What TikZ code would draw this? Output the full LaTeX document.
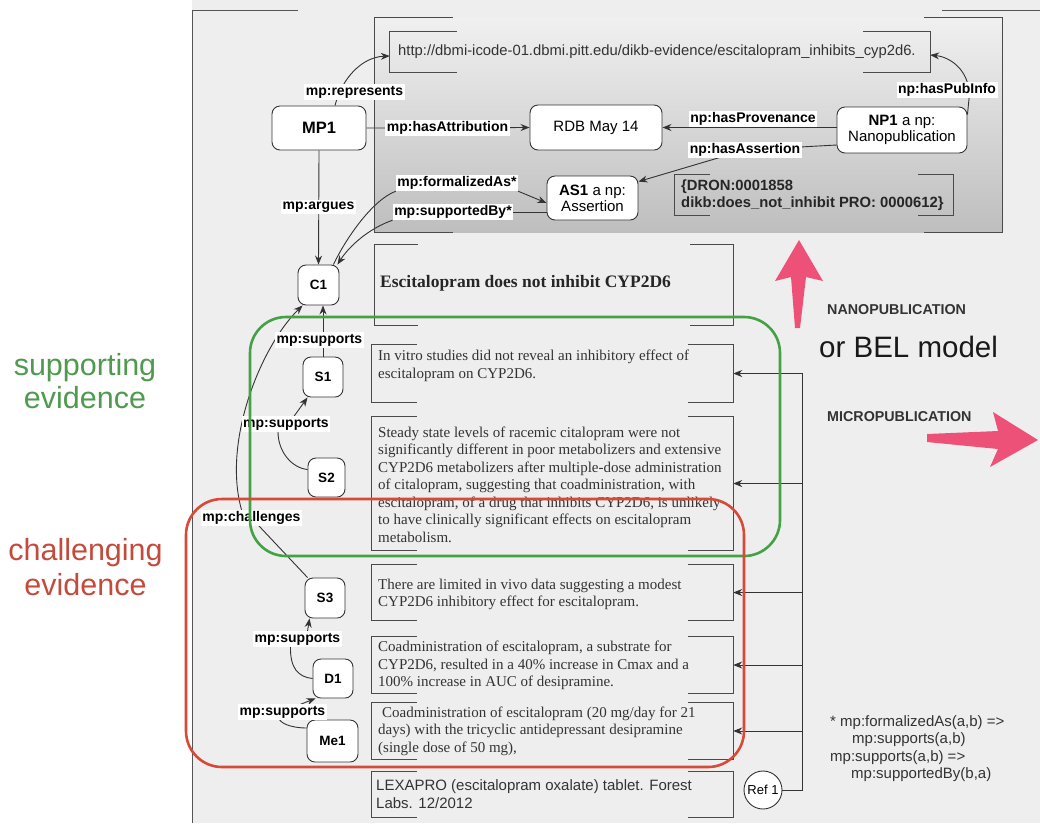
\documentclass[tikz,border=0pt]{standalone}
\usepackage{fontspec}
\setmainfont{Liberation Sans}
\newfontfamily\tnr{Liberation Serif}
\usetikzlibrary{arrows.meta,calc}
\definecolor{linec}{HTML}{333333}
\definecolor{brkc}{HTML}{4A4A4A}
\definecolor{framec}{HTML}{555555}
\definecolor{panelc}{HTML}{EEEEEE}
\definecolor{npTop}{HTML}{F0F0F0}
\definecolor{npBot}{HTML}{BEBEBE}
\definecolor{pinkc}{HTML}{EE5177}
\definecolor{grn}{HTML}{45A145}
\definecolor{rd}{HTML}{D84A38}
\definecolor{grntxt}{HTML}{4F9A4F}
\definecolor{rdtxt}{HTML}{C44B3C}
\pgfdeclarelayer{back}
\pgfdeclarelayer{edges}
\pgfsetlayers{back,edges,main}
\tikzset{
  rnode/.style={draw=linec, fill=white, rounded corners=8pt, line width=0.9pt, inner sep=0pt, align=center},
  snode/.style={rnode, font=\fontsize{13.5}{15}\selectfont\bfseries},
  lbl/.style={fill=white, inner sep=1.5pt, font=\fontsize{14}{15}\selectfont\bfseries, text=black},
  edge/.style={draw=linec, line width=0.9pt},
  arr/.style={edge, -{Stealth[length=9pt,width=7pt]}},
  brk/.style={draw=brkc, line width=1pt},
  boxn/.style={inner sep=0pt, draw=none},
  txt/.style={anchor=west, align=left, inner sep=0pt, font=\tnr\fontsize{15}{17.5}\selectfont, text=black!80},
}
\newcommand\brkbox[2]{%
  \draw[brk] ([xshift=#2]#1.north west) -- (#1.north west) -- (#1.south west) -- ([xshift=#2]#1.south west);
  \draw[brk] ([xshift=-#2]#1.north east) -- (#1.north east) -- (#1.south east) -- ([xshift=-#2]#1.south east);}
\begin{document}
\begin{tikzpicture}[x=1pt,y=-1pt]
\useasboundingbox (0,0) rectangle (1040,823);
\begin{pgfonlayer}{back}
\fill[white] (0,0) rectangle (1040,823);
\fill[panelc] (192,0) rectangle (1040,823);
\shade[top color=npTop, bottom color=npBot] (375,18) rectangle (1002,232);
\end{pgfonlayer}
\draw[framec, line width=1pt] (298,10) -- (192,10) -- (192,823);
\draw[framec, line width=1pt] (942,10) -- (1040,10);

% bracket boxes
\node[boxn, minimum width=627pt, minimum height=214pt] (NPbox) at (688.5,125) {};
\brkbox{NPbox}{78pt}
\node[boxn, minimum width=540pt, minimum height=40pt] (URL) at (660,52) {};
\brkbox{URL}{67pt}
\node[anchor=west, inner sep=0pt, font=\fontsize{14.8}{16}\selectfont, text=black!80] (URLt) at (398,52) {http://dbmi-icode-01.dbmi.pitt.edu/dikb-evidence/escitalopram\_inhibits\_cyp2d6.};
\node[boxn, minimum width=278pt, minimum height=40pt] (DRON) at (814,195) {};
\brkbox{DRON}{35pt}
\node[anchor=west, align=left, inner sep=0pt, font=\fontsize{14.8}{17.3}\selectfont\bfseries, text=black!85] (DRONt) at (681,195) {\{DRON:0001858\\dikb:does\_not\_inhibit PRO: 0000612\}};

\node[boxn, minimum width=358pt, minimum height=80pt] (Stmt) at (554,285) {};
\brkbox{Stmt}{43pt}
\node[anchor=west, inner sep=0pt, font=\tnr\fontsize{17.5}{19}\selectfont\bfseries, text=black!85] (Stmtt) at (380,283) {Escitalopram does not inhibit CYP2D6};

\node[boxn, minimum width=361pt, minimum height=57pt] (B1) at (552.5,373.5) {};
\node[boxn, minimum width=361pt, minimum height=133pt] (B2) at (552.5,483.5) {};
\node[boxn, minimum width=361pt, minimum height=55pt] (B3) at (552.5,592.5) {};
\node[boxn, minimum width=361pt, minimum height=56pt] (B4) at (552.5,665) {};
\node[boxn, minimum width=361pt, minimum height=56pt] (B5) at (552.5,731) {};
\node[boxn, minimum width=361pt, minimum height=45pt] (B6) at (552.5,794.5) {};
\foreach \b in {B1,B2,B3,B4,B5,B6} {\brkbox{\b}{45pt}}

\node[txt] (T1) at (378,366) {In vitro studies did not reveal an inhibitory effect of\\escitalopram on CYP2D6.};
\node[txt] (T2) at (378,484.5) {Steady state levels of racemic citalopram were not\\significantly different in poor metabolizers and extensive\\CYP2D6 metabolizers after multiple-dose administration\\of citalopram, suggesting that coadministration, with\\escitalopram, of a drug that inhibits CYP2D6, is unlikely\\to have clinically significant effects on escitalopram\\metabolism.};
\node[txt] (T3) at (378,594.5) {There are limited in vivo data suggesting a modest\\CYP2D6 inhibitory effect for escitalopram.};
\node[txt] (T4) at (378,665.5) {Coadministration of escitalopram, a substrate for\\CYP2D6, resulted in a 40\% increase in Cmax and a\\100\% increase in AUC of desipramine.};
\node[txt] (T5) at (378,731) {\hspace*{4pt}Coadministration of escitalopram (20 mg/day for 21\\days) with the tricyclic antidepressant desipramine\\(single dose of 50 mg),};
\node[txt, font=\fontsize{15}{18}\selectfont] (T6) at (376,794) {LEXAPRO (escitalopram oxalate) tablet. Forest\\Labs. 12/2012};

% graph nodes
\node[rnode, minimum width=94pt, minimum height=44pt, font=\fontsize{16.5}{18}\selectfont\bfseries] (MP1) at (319,128) {MP1};
\node[rnode, minimum width=132pt, minimum height=45pt, font=\fontsize{15}{16}\selectfont] (RDB) at (596,127.5) {RDB May 14};
\node[rnode, minimum width=130pt, minimum height=46pt, font=\fontsize{15}{16}\selectfont] (NP1) at (902,130) {\textbf{NP1} a np:\\Nanopublication};
\node[rnode, minimum width=91pt, minimum height=44pt, font=\fontsize{15}{16}\selectfont] (AS1) at (592.5,198) {\textbf{AS1} a np:\\Assertion};
\node[snode, minimum width=41pt, minimum height=40pt] (C1) at (318.5,285) {C1};
\node[snode, minimum width=40pt, minimum height=40pt] (S1) at (323,377) {S1};
\node[snode, minimum width=37pt, minimum height=39pt] (S2) at (326.5,477.5) {S2};
\node[snode, minimum width=40pt, minimum height=40pt] (S3) at (325,598) {S3};
\node[snode, minimum width=40pt, minimum height=39pt] (D1) at (333,678.5) {D1};
\node[snode, minimum width=51pt, minimum height=42pt] (Me1) at (332.5,741) {Me1};
\node[draw=linec, line width=0.9pt, fill=white, circle, minimum size=38pt, inner sep=0pt, font=\fontsize{13}{14}\selectfont] (Ref1) at (763,790) {Ref 1};

% labels
\node[lbl] (Lrep) at (354.5,92) {mp:represents};
\node[lbl] (Lattr) at (447.5,128) {mp:hasAttribution};
\node[lbl] (Largues) at (318.5,207) {mp:argues};
\node[lbl] (Lform) at (457,183) {mp:formalizedAs*};
\node[lbl] (Lsupby) at (453,212) {mp:supportedBy*};
\node[lbl] (Lprov) at (753,119) {np:hasProvenance};
\node[lbl] (Lass) at (745,150) {np:hasAssertion};
\node[lbl] (Lpub) at (947,90) {np:hasPubInfo};
\node[lbl] (Ls1) at (319.5,340) {mp:supports};
\node[lbl] (Ls2) at (286,424) {mp:supports};
\node[lbl] (Lch) at (251.5,518) {mp:challenges};
\node[lbl] (Ls3) at (297.5,639) {mp:supports};
\node[lbl] (Ld1) at (282.5,712) {mp:supports};

\begin{pgfonlayer}{edges}
\draw[arr] ([xshift=16pt]MP1.north) .. controls (342,78) and (362,57) .. ([yshift=-4pt]URL.west);
\draw[arr] (MP1.east) -- (RDB.west);
\draw[arr] (NP1.west |- RDB.east) -- (RDB.east);
\draw[edge] ([yshift=-15pt]NP1.west) -- (Lass.center);
\draw[arr] (Lass.center) -- ([yshift=-6pt]AS1.north east);
\draw[arr] ([yshift=-8pt]NP1.north east) -- ++(2,-20) .. controls ++(-1,-25) and (950,57) .. ([yshift=-3pt]URL.east);
\draw[arr] (MP1.south) -- (C1.north);
\draw[edge] ([xshift=-6pt]C1.north east) .. controls (345,240) and (372,200) .. (Lform.south west);
\draw[arr] (Lform.south east) -- ([yshift=-5pt]AS1.west);
\draw[edge] ([yshift=-14pt]AS1.west) -- (Lsupby.east);
\draw[arr] (Lsupby.south west) .. controls (370,228) and (350,245) .. ([xshift=-2pt]C1.north east);
\draw[arr] (S1.north) -- (S1.north |- C1.south);
\draw[edge] ([yshift=8pt]S2.west) .. controls (292,468) and (278,452) .. ([xshift=-8pt]Ls2.south);
\draw[arr] ([xshift=8pt]Ls2.north) -- ([xshift=5pt]S1.south west);
\draw[edge] ([xshift=3pt]S3.north west) -- (Lch.center);
\draw[arr] ([xshift=-10pt]Lch.north) .. controls (222,440) and (262,345) .. ([xshift=5pt]C1.south west);
\draw[edge] (D1.west) .. controls (298,677) and (290,668) .. ([xshift=-7pt]Ls3.south);
\draw[arr] ([xshift=10pt]Ls3.north) -- ([xshift=5pt]S3.south west);
\draw[edge] ([yshift=13pt]Me1.west) .. controls (295,728) and (283,725) .. ([xshift=-3pt]Ld1.south);
\draw[arr] ([xshift=18pt]Ld1.north) -- ([xshift=3pt]D1.south west);
\coordinate (bus) at (802,373);
\draw[edge] (Ref1.east) -| (bus);
\foreach \b in {B1,B2,B3,B4,B5} {\draw[arr] (\b.east -| bus) -- (\b.east);}
\end{pgfonlayer}

% pink arrows
\fill[pinkc] (799,240) -- (823,281) -- (806,277) -- (800,328) -- (795,328) -- (791,277) -- (775,281) -- cycle;
\fill[pinkc] (1038,440) -- (993,412) -- (998,431) -- (927,434) -- (927,442) -- (998,449) -- (990,467) -- cycle;

% side texts
\node[font=\fontsize{14.3}{16}\selectfont\bfseries, text=black!80, anchor=west, inner sep=0pt] (Nano) at (827,310) {NANOPUBLICATION};
\node[font=\fontsize{29.5}{32}\selectfont, text=black!90, anchor=west, inner sep=0pt] (BEL) at (819,347) {or BEL model};
\node[font=\fontsize{14.3}{16}\selectfont\bfseries, text=black!80, anchor=west, inner sep=0pt] (Micro) at (827,417) {MICROPUBLICATION};
\node[font=\fontsize{15}{17.5}\selectfont, text=black!80, anchor=west, align=left, inner sep=0pt] (Foot) at (830,748.5) {* mp:formalizedAs(a,b) =>\\\hspace*{22pt}mp:supports(a,b)\\mp:supports(a,b) =>\\\hspace*{21pt}mp:supportedBy(b,a)};
\node[font=\fontsize{30.5}{33}\selectfont, text=grntxt, align=center, inner sep=0pt] (Sup) at (85,381) {supporting\\evidence};
\node[font=\fontsize{30.5}{35}\selectfont, text=rdtxt, align=center, inner sep=0pt] (Chal) at (85.5,567) {challenging\\evidence};

% evidence groups
\draw[grn, line width=2.6pt, rounded corners=36pt] (250,317) rectangle (780,556);
\draw[rd, line width=2.6pt, rounded corners=36pt] (186,499) rectangle (744,767);
\end{tikzpicture}
\end{document}
